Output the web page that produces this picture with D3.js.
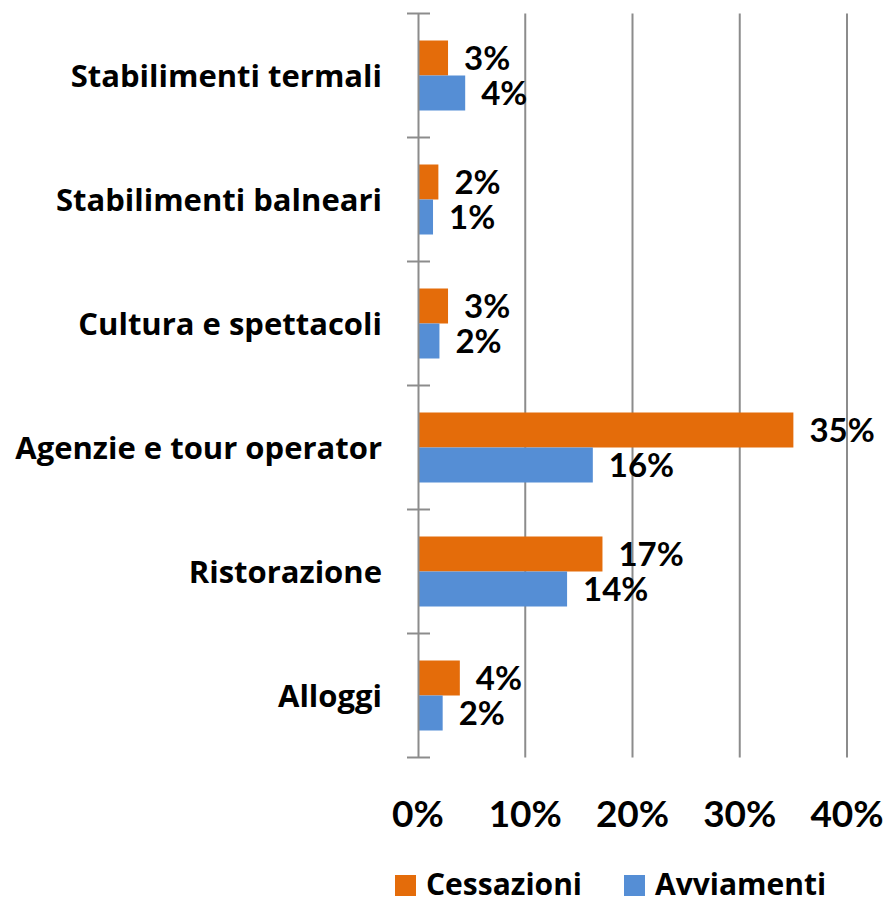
<!DOCTYPE html>
<html>
<head>
<meta charset="utf-8">
<script src="https://cdn.jsdelivr.net/npm/d3@7"></script>
<style>
  body { margin: 0; background: #fff; }
  text { font-family: Lato, "Open Sans", sans-serif; font-weight: bold; fill: #000; }
  .cat, .leg { font-family: "Open Sans", Lato, sans-serif; }
</style>
</head>
<body>
<svg id="chart" width="889" height="899"></svg>
<script>
const categories = [
  "Stabilimenti termali",
  "Stabilimenti balneari",
  "Cultura e spettacoli",
  "Agenzie e tour operator",
  "Ristorazione",
  "Alloggi",
];
const seriesNames = ["Cessazioni", "Avviamenti"];
const cessazioni = [0.028, 0.019, 0.028, 0.35, 0.172, 0.039];
const avviamenti = [0.044, 0.014, 0.020, 0.163, 0.139, 0.023];
const xTicks = [0, 0.1, 0.2, 0.3, 0.4];

const colors = { Cessazioni: "#E46C0A", Avviamenti: "#558ED5" };
const gridColor = "#8c8c8c";

const svg = d3.select("#chart");

const x = d3.scaleLinear().domain([0, 0.4]).range([418, 847]);
const y = d3.scaleBand().domain(categories).range([13.5, 757.5]);
const inner = d3.scaleBand().domain(seriesNames).range([0, 70]);
const groupOffset = (y.bandwidth() - 70) / 2;

const rows = categories.map((c, i) => ({
  name: c,
  values: [
    { series: "Cessazioni", value: cessazioni[i] },
    { series: "Avviamenti", value: avviamenti[i] },
  ],
}));

// gridlines
svg.append("g")
  .selectAll("line")
  .data(xTicks.slice(1))
  .enter()
  .append("line")
  .attr("x1", (d) => x(d))
  .attr("x2", (d) => x(d))
  .attr("y1", y.range()[0])
  .attr("y2", y.range()[1])
  .attr("stroke", gridColor)
  .attr("stroke-width", 2);

// bars
const groups = svg.selectAll(".group")
  .data(rows)
  .enter()
  .append("g")
  .attr("class", "group")
  .attr("transform", (d) => `translate(0, ${y(d.name) + groupOffset})`);

groups.selectAll("rect")
  .data((d) => d.values)
  .enter()
  .append("rect")
  .attr("x", x(0))
  .attr("y", (d) => inner(d.series))
  .attr("width", (d) => x(d.value) - x(0))
  .attr("height", inner.bandwidth())
  .attr("fill", (d) => colors[d.series]);

groups.selectAll(".val")
  .data((d) => d.values)
  .enter()
  .append("text")
  .attr("class", "val")
  .attr("x", (d) => x(d.value) + 16)
  .attr("y", (d) => inner(d.series) + inner.bandwidth() / 2)
  .attr("dy", "0.36em")
  .style("font-size", "33px")
  .text((d) => d3.format(".0%")(d.value));

// left axis
const yAxis = d3.axisLeft(y).tickSize(0).tickFormat("");
const ya = svg.append("g").attr("transform", `translate(${x(0)},0)`).call(yAxis);
ya.select(".domain").attr("stroke", gridColor).attr("stroke-width", 2);

const boundaries = categories.map((c) => y(c)).concat([y.range()[1]]);
svg.append("g")
  .selectAll("line")
  .data(boundaries)
  .enter()
  .append("line")
  .attr("x1", x(0) - 11)
  .attr("x2", x(0) + 12)
  .attr("y1", (d) => d)
  .attr("y2", (d) => d)
  .attr("stroke", gridColor)
  .attr("stroke-width", 2);

svg.append("g")
  .selectAll("text")
  .data(categories)
  .enter()
  .append("text")
  .attr("class", "cat")
  .attr("x", 382)
  .attr("y", (d) => y(d) + y.bandwidth() / 2)
  .attr("dy", "0.36em")
  .attr("text-anchor", "end")
  .style("font-size", "31px")
  .text((d) => d);

// bottom tick labels
svg.append("g")
  .selectAll("text")
  .data(xTicks)
  .enter()
  .append("text")
  .attr("x", (d) => x(d))
  .attr("y", 827)
  .attr("text-anchor", "middle")
  .style("font-size", "37px")
  .text((d) => d3.format(".0%")(d));

// legend
const legendX = [395, 624];
const legend = svg.append("g")
  .selectAll("g")
  .data(seriesNames)
  .enter()
  .append("g")
  .attr("transform", (d, i) => `translate(${legendX[i]}, 875)`);

legend.append("rect")
  .attr("width", 21)
  .attr("height", 21)
  .attr("fill", (d) => colors[d]);

legend.append("text")
  .attr("class", "leg")
  .attr("x", 31)
  .attr("y", 20)
  .style("font-size", "30px")
  .text((d) => d);
</script>
</body>
</html>
